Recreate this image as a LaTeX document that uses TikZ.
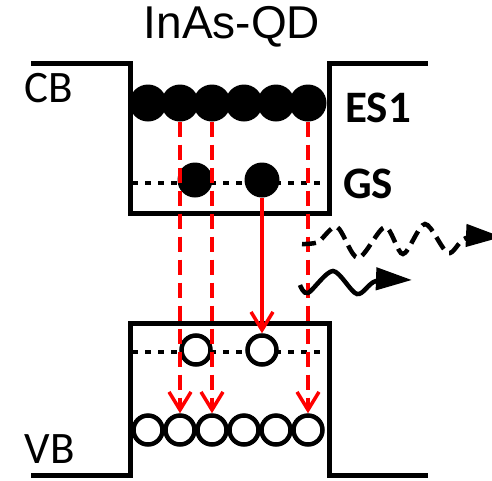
\documentclass[tikz,border=0pt]{standalone}
\usepackage{fontspec}
\setmainfont{Carlito}
\newfontfamily\arialfont{Liberation Sans}
\usetikzlibrary{arrows.meta,positioning}

\begin{document}
\begin{tikzpicture}[x=1pt,y=-1pt,
	band/.style={line width=5pt},
	level/.style={line width=4.5pt, dash pattern=on 6pt off 7pt},
	elec/.style={circle, fill=black, inner sep=0pt, minimum size=37pt},
	gselec/.style={circle, fill=black, inner sep=0pt, minimum size=35pt},
	hole/.style={circle, draw=black, fill=white, line width=4.5pt, inner sep=0pt, minimum size=29pt},
	trans/.style={red, line width=3.5pt, dash pattern=on 15pt off 8pt, -{Straight Barb[length=18pt,width=22pt]}},
	relax/.style={red, line width=3.5pt, -{Straight Barb[length=18pt,width=22pt]}},
	photon/.style={line width=4.5pt, -{Triangle[length=36pt,width=22pt]}},
	lbl/.style={font=\fontsize{45}{50}\selectfont, inner sep=0pt, anchor=base}
	]
	\useasboundingbox (0,0) rectangle (492,480);
	
	% band edges
	\draw[band] (31,63) -- (130,63) -- (130,213) -- (329,213) -- (329,63) -- (428,63);
	\draw[band] (31,475) -- (130,475) -- (130,323) -- (329,323) -- (329,475) -- (428,475);
	
	% confined levels
	\draw[level] (132,183) -- (327,183);
	\draw[level] (132,352) -- (327,352);
	
	% electrons
	\foreach \i in {1,...,6}
		\node[elec] (e\i) at ({116+32*\i},103) {};
	\node[gselec] (g1) at (195,180) {};
	\node[gselec] (g2) at (262,180) {};
	
	% holes
	\node[hole] (h1) at (196,350) {};
	\node[hole] (h2) at (262,350) {};
	\foreach \i in {1,...,6}
		\node[hole] (v\i) at ({116+32*\i},430) {};
	
	% transitions
	\draw[trans] (e2.south) -- (v2.north);
	\draw[trans] (e3.south) -- (v3.north);
	\draw[trans] (e6.south) -- (v6.north);
	\draw[relax] (g2.south) -- (h2.north);
	
	% emitted photons
	\coordinate (pes) at (302,244);
	\coordinate (pee) at (502,237);
	\coordinate (pgs) at (300,285);
	\coordinate (pge) at (412,280);
	\draw[photon, dash pattern=on 14pt off 7pt] plot[smooth, tension=0.5] coordinates
		{(pes) (318,242) (337,227) (358,258) (385,227) (403,254) (425,224) (448,253) (466,238) (pee)};
	\draw[photon] plot[smooth, tension=0.5] coordinates
		{(pgs) (308,293) (333,271) (357,294) (376,281) (pge)};
	
	% labels
	\node[lbl, font=\arialfont\fontsize{46}{50}\selectfont] (title) at (232,38) {InAs-QD};
	\node[lbl] (cb) at (49,102) {CB};
	\node[lbl] (vb) at (50,463) {VB};
	\node[lbl, font=\bfseries\fontsize{45}{50}\selectfont] (es1) at (378,122) {ES1};
	\node[lbl, font=\bfseries\fontsize{45}{50}\selectfont] (gs) at (368,198) {GS};
\end{tikzpicture}
\end{document}
